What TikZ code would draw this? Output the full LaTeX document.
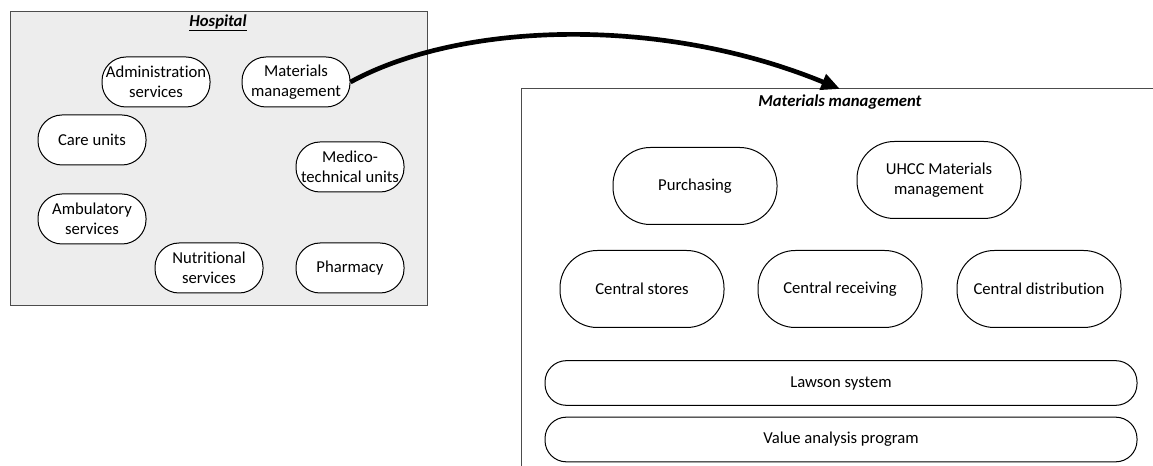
\documentclass[tikz,border=0pt]{standalone}
\usepackage{fontspec}
\setmainfont{Carlito}[Ligatures=NoCommon]
\usepackage{tikz}
\usetikzlibrary{arrows.meta}

\tikzset{
  unitbox/.style={draw, fill=white, rounded corners=18pt, minimum width=81pt, minimum height=37.5pt, inner sep=0pt, align=center},
  deptbox/.style={draw, fill=white, rounded corners=28pt, minimum width=123pt, minimum height=57.75pt, inner sep=0pt, align=center},
  barbox/.style={draw, fill=white, rounded corners=16pt, minimum width=444pt, minimum height=33.5pt, inner sep=0pt},
}

\begin{document}
\begin{tikzpicture}[x=0.75pt, y=-0.75pt, font=\fontsize{12.5}{15}\selectfont, line width=0.75pt]
                \useasboundingbox (0,0) rectangle (1153,466);

                % hospital
                \draw[draw=black!70, fill=black!7] (10,12) rectangle (427,306);
                \node (hosp) at (218,23) {\underline{\textbf{\textit{Hospital}}}};

                \node[unitbox] (admin) at (156,82) {Administration\\services};
                \node[unitbox] (mm) at (296,82) {Materials\\management};
                \node[unitbox] (care) at (92,140) {Care units};
                \node[unitbox] (medico) at (350,167) {Medico-\\technical units};
                \node[unitbox] (ambul) at (92,219) {Ambulatory\\services};
                \node[unitbox] (nutri) at (209,268) {Nutritional\\services};
                \node[unitbox] (pharm) at (350,268) {Pharmacy};

                % materials management
                \draw[draw=black!70] (521,466) -- (521,89) -- (1153,89);
                \coordinate (mmtop) at (840,89);
                \node (mmtitle) at (840,102) {\textbf{\textit{Materials management}}};

                \node[deptbox] (purch) at (695,186) {Purchasing};
                \node[deptbox] (uhcc) at (939,180) {UHCC Materials\\management};
                \node[deptbox] (stores) at (642,289) {Central stores};
                \node[deptbox] (recv) at (840,289) {Central receiving};
                \node[deptbox] (distr) at (1039,289) {Central distribution};

                \node[barbox] (lawson) at (841,383) {Lawson system};
                \node[barbox] (value) at (841,439.5) {Value analysis program};

                \draw[line width=3.5pt, -{Triangle[length=14pt, width=12pt]}]
                    (mm.east) .. controls (460,22) and (660,15) .. (mmtop);
            \end{tikzpicture}
\end{document}
